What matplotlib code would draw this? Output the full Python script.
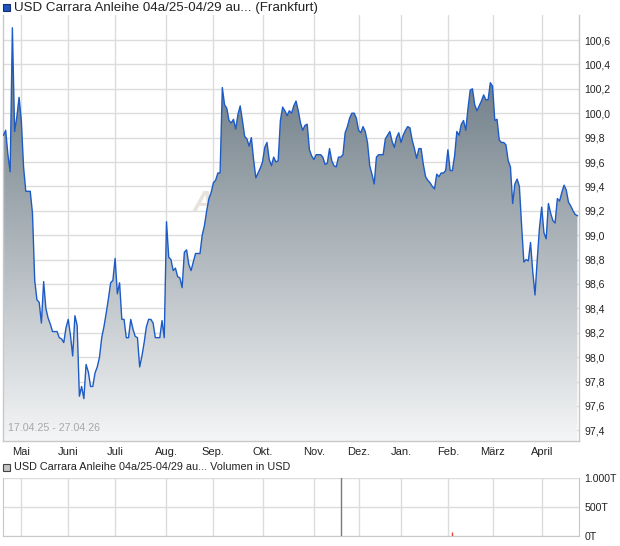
import numpy as np
import pandas as pd
import matplotlib
matplotlib.use("Agg")
import matplotlib.pyplot as plt
from matplotlib.colors import LinearSegmentedColormap
from matplotlib.patches import Rectangle

plt.rcParams['font.family'] = ['Liberation Sans', 'DejaVu Sans']

# ---------------- data ----------------
title_main = "USD Carrara Anleihe 04a/25-04/29 au... (Frankfurt)"
title_volume = "USD Carrara Anleihe 04a/25-04/29 au... Volumen in USD"
date_range_label = "17.04.25 - 27.04.26"
start_date = "2025-04-17"
end_date = "2026-04-27"
exchange_holidays = ["2025-04-18", "2025-04-21", "2025-05-01", "2025-12-24",
                     "2025-12-25", "2025-12-26", "2025-12-31", "2026-01-01",
                     "2026-04-03", "2026-04-06"]
month_labels = ["Mai", "Juni", "Juli", "Aug.", "Sep.", "Okt.", "Nov.", "Dez.",
                "Jan.", "Feb.", "März", "April"]
price_ticks = [97.4, 97.6, 97.8, 98.0, 98.2, 98.4, 98.6, 98.8, 99.0, 99.2,
               99.4, 99.6, 99.8, 100.0, 100.2, 100.4, 100.6]
volume_ticks = [0, 500000, 1000000]
volume_tick_labels = ["0T", "500T", "1.000T"]

prices_apr25 = [99.82, 99.86, 99.66, 99.52, 100.70, 99.85, 99.97, 100.13]
prices_may = [99.94, 99.56, 99.36, 99.36, 99.36, 99.18, 98.63, 98.47, 98.45, 98.28,
              98.62, 98.40, 98.32, 98.27, 98.21, 98.21, 98.21, 98.16, 98.15, 98.12,
              98.24]
prices_jun = [98.31, 98.18, 98.01, 98.34, 98.26, 97.68, 97.76, 97.66, 97.94, 97.88,
              97.76, 97.76, 97.87, 97.92, 98.00, 98.16, 98.25, 98.36, 98.48, 98.61,
              98.63]
prices_jul = [98.81, 98.52, 98.61, 98.31, 98.31, 98.16, 98.16, 98.31, 98.23, 98.17,
              98.16, 97.92, 98.01, 98.12, 98.25, 98.31, 98.31, 98.28, 98.16, 98.16,
              98.16, 98.30, 98.16]
prices_aug = [99.11, 98.82, 98.80, 98.71, 98.73, 98.66, 98.65, 98.57, 98.86, 98.88,
              98.76, 98.71, 98.78, 98.85, 98.85, 98.85, 99.00, 99.08, 99.20, 99.30,
              99.35]
prices_sep = [99.43, 99.45, 99.51, 99.51, 100.21, 100.07, 100.04, 99.94, 99.92, 99.95,
              99.87, 99.99, 100.06, 99.94, 99.81, 99.79, 99.73, 99.80, 99.62, 99.47,
              99.51, 99.55]
prices_oct = [99.60, 99.72, 99.76, 99.62, 99.57, 99.64, 99.60, 99.61, 99.94, 100.05,
              100.02, 99.98, 100.02, 100.00, 100.06, 100.10, 100.02, 99.92, 99.86, 99.90,
              99.91, 99.70, 99.65]
prices_nov = [99.62, 99.66, 99.66, 99.66, 99.64, 99.58, 99.59, 99.71, 99.61, 99.57,
              99.56, 99.64, 99.64, 99.66, 99.84, 99.89, 99.96, 100.00, 100.00, 99.96]
prices_dec = [99.86, 99.84, 99.89, 99.85, 99.76, 99.57, 99.50, 99.42, 99.64, 99.66,
              99.66, 99.66, 99.79, 99.82, 99.85, 99.77, 99.72, 99.80, 99.84]
prices_jan = [99.76, 99.82, 99.86, 99.89, 99.88, 99.78, 99.71, 99.63, 99.71, 99.71,
              99.58, 99.48, 99.45, 99.43, 99.40, 99.38, 99.50, 99.48, 99.51, 99.51,
              99.53]
prices_feb = [99.70, 99.53, 99.53, 99.65, 99.85, 99.82, 99.91, 99.94, 99.86, 100.04,
              100.19, 100.20, 100.07, 100.02, 100.06, 100.10, 100.15, 100.11, 100.11, 100.25]
prices_mar = [100.22, 99.94, 99.95, 99.78, 99.76, 99.76, 99.74, 99.61, 99.56, 99.26,
              99.42, 99.46, 99.40, 99.08, 98.78, 98.80, 98.79, 98.94, 98.70, 98.51,
              98.80, 99.06]
prices_apr26 = [99.23, 99.02, 98.97, 99.26, 99.18, 99.12, 99.10, 99.30, 99.28, 99.35,
                99.41, 99.37, 99.27, 99.24, 99.20, 99.17, 99.16]

volume_dates = ["2025-11-19", "2026-02-04"]
volume_values = [1100000, 70000]
volume_colors = ["#7a7a7a", "#e8403a"]

# ---------------- build series ----------------
prices = np.array(prices_apr25 + prices_may + prices_jun + prices_jul + prices_aug +
                  prices_sep + prices_oct + prices_nov + prices_dec + prices_jan +
                  prices_feb + prices_mar + prices_apr26)
sessions = pd.bdate_range(start_date, end_date, freq="C",
                          holidays=pd.to_datetime(exchange_holidays))
n = min(len(sessions), len(prices))
sessions = sessions[:n]
prices = prices[:n]
x = np.arange(n)

month_period = sessions.to_period("M")
month_pos = [i for i in range(1, n) if month_period[i] != month_period[i - 1]]

W, H = 620, 546
fig = plt.figure(figsize=(W / 100, H / 100), dpi=100)
fig.patch.set_facecolor("white")

def fx(px):
    return px / W

def fy(py):
    return 1 - py / H

L, R = 3, 579
ax = fig.add_axes([fx(L), fy(441), fx(R - L), fy(15) - fy(441)])
ymin, ymax = 97.313, 100.805
xmin, xmax = -0.2, n - 1 + 0.7
ax.set_xlim(xmin, xmax)
ax.set_ylim(ymin, ymax)

grid_c = "#dcdcdc"
for t in price_ticks:
    ax.axhline(t, color=grid_c, lw=1, zorder=0)
for p in month_pos:
    ax.axvline(p, color=grid_c, lw=1, zorder=0)

# watermark
ax.text((193 - L) / (R - L), (441 - 203) / 426, "A", transform=ax.transAxes,
        fontsize=21, color="#e6e2dc", fontstyle="italic", fontweight="bold",
        ha="left", va="center", zorder=0.5)

# gradient fill
coll = ax.fill_between(x, prices, ymin, facecolor="none",
                       edgecolor="none", zorder=1)
cmap = LinearSegmentedColormap.from_list("g", ["#5b6b76", "#f4f5f6"])
grad = np.linspace(0, 1, 256).reshape(-1, 1)
im = ax.imshow(grad, cmap=cmap, aspect="auto", origin="upper",
               extent=[xmin, xmax, ymin, ymax], zorder=1, interpolation="bilinear")
im.set_clip_path(coll.get_paths()[0], ax.transData)
ax.set_xlim(xmin, xmax)
ax.set_ylim(ymin, ymax)

ax.plot(x, prices, color="#1d5bc6", lw=1.0, zorder=3)

ax.yaxis.tick_right()
ax.set_yticks(price_ticks)
ax.set_yticklabels([f"{t:.1f}".replace(".", ",") for t in price_ticks])
ax.set_xticks(month_pos)
ax.set_xticklabels(month_labels[:len(month_pos)])
ax.tick_params(axis="both", length=0, colors="#222222")
ax.tick_params(axis="y", pad=4, labelsize=7.6)
ax.tick_params(axis="x", pad=4, labelsize=8)
for lab in ax.get_yticklabels():
    lab.set_horizontalalignment("left")
for s in ["left", "right", "bottom"]:
    ax.spines[s].set_color("#c8c8c8")
    ax.spines[s].set_linewidth(1)
ax.spines["top"].set_visible(False)

ax.text(5 / (R - L), 8 / 426, date_range_label, transform=ax.transAxes,
        fontsize=7.7, color="#a8a8a8", ha="left", va="bottom", zorder=5)

# volume panel
axv = fig.add_axes([fx(L), fy(536), fx(R - L), fy(478) - fy(536)])
axv.set_xlim(xmin, xmax)
axv.set_ylim(0, 1000000)
for t in volume_ticks:
    axv.axhline(t, color=grid_c, lw=1, zorder=0)
for p in month_pos:
    axv.axvline(p, color=grid_c, lw=1, zorder=0)
vpos = [sessions.get_loc(pd.Timestamp(d)) for d in volume_dates]
axv.vlines(vpos, 0, volume_values, colors=volume_colors, lw=1, zorder=2)
axv.yaxis.tick_right()
axv.set_yticks(volume_ticks)
axv.set_yticklabels(volume_tick_labels)
axv.set_xticks([])
axv.tick_params(axis="y", length=0, labelsize=7.6, colors="#222222", pad=4)
for lab in axv.get_yticklabels():
    lab.set_horizontalalignment("left")
for s in ["left", "right", "bottom", "top"]:
    axv.spines[s].set_color("#c8c8c8")
axv.spines["top"].set_visible(False)

# legends
fig.patches.append(Rectangle((fx(3), fy(11)), fx(7), fy(4) - fy(11),
                             transform=fig.transFigure, facecolor="#1f55c0",
                             edgecolor="#1a2f6a", lw=0.8))
fig.text(fx(14), fy(8), title_main, fontsize=9.6, color="#222222",
         ha="left", va="center")
fig.patches.append(Rectangle((fx(3), fy(471)), fx(7), fy(464) - fy(471),
                             transform=fig.transFigure, facecolor="#c4c4c4",
                             edgecolor="#444444", lw=0.8))
fig.text(fx(14), fy(467), title_volume, fontsize=7.8, color="#222222",
         ha="left", va="center")

fig.savefig("out.png", dpi=100, facecolor="white")
